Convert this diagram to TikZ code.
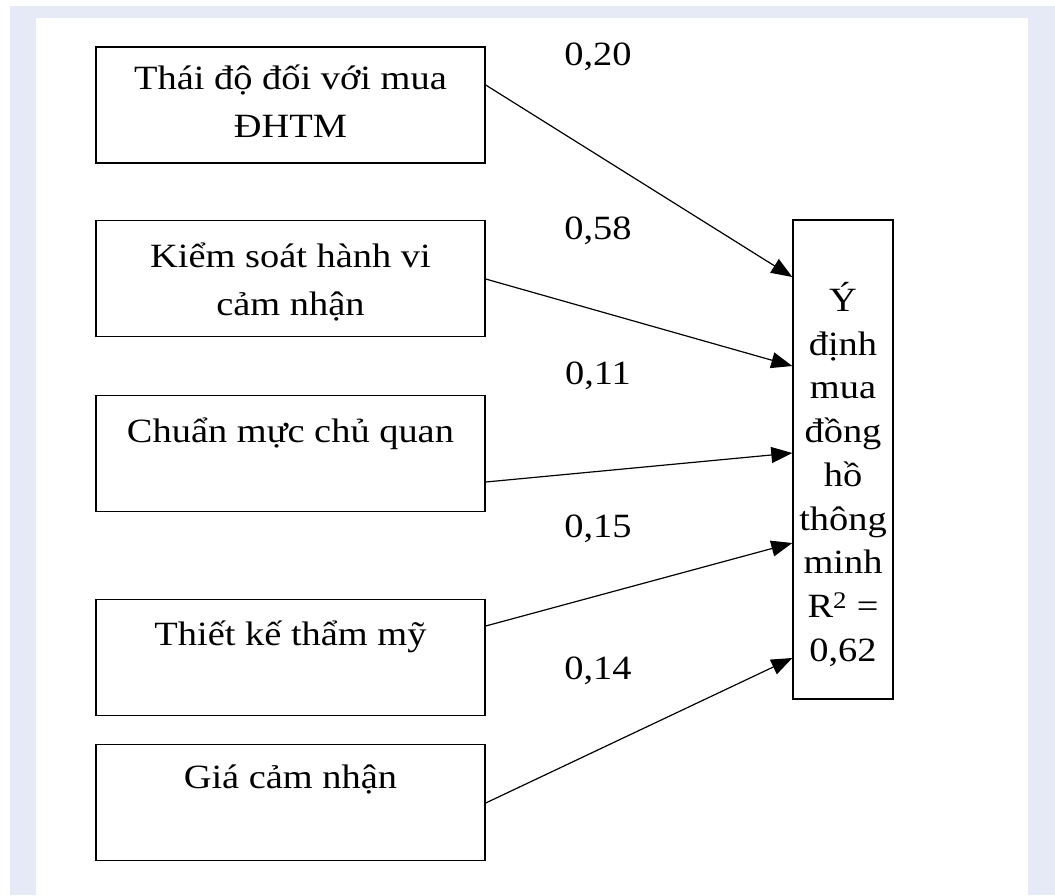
\documentclass[tikz,border=0pt]{standalone}
\usepackage{fontspec}
\setmainfont{Liberation Serif}[FakeStretch=1.13]
\usetikzlibrary{arrows.meta, positioning, calc}
\definecolor{colFrame}{RGB}{230,234,246}
\tikzset{
  fbox/.style  = {draw, line width=1.4pt, minimum width=389pt, minimum height=116pt,
                  inner sep=0pt},
  ftext/.style = {font=\fontsize{34}{48}\selectfont, align=center, inner sep=0pt,
                  anchor=base},
  ybox/.style  = {draw, line width=1.4pt, minimum width=100pt, minimum height=479pt,
                  inner sep=0pt},
  ytext/.style = {font=\fontsize{34}{43.75}\selectfont, align=center, inner sep=0pt,
                  anchor=base},
  coef/.style  = {font=\fontsize{34}{40}\selectfont, inner sep=0pt, anchor=base},
  arr/.style   = {-{Triangle[length=21pt, width=16pt]}, line width=1.2pt},
}

\begin{document}
\begin{tikzpicture}[x=1pt, y=-1pt]

%% ── page frame ──────────────────────────────────────────────────────────────
\useasboundingbox (0,0) rectangle (1055,895);
\fill[white]    (0,0)   rectangle (1055,895);
\fill[colFrame] (10,6)  rectangle (1055,895);
\fill[white]    (36,18) rectangle (1028,895);

%% ── factor boxes ────────────────────────────────────────────────────────────
\node[fbox] (thaido)   at (290.5,105)   {};
\node[fbox] (kiemsoat) at (290.5,278.5) {};
\node[fbox] (chuanmuc) at (290.5,453.5) {};
\node[fbox] (thietke)  at (290.5,657.5) {};
\node[fbox] (gia)      at (290.5,802.5) {};

% base of a multi-line node = its last line
\node[ftext] (thaidoT)   at ([yshift=-91pt]thaido.north)   {Thái độ đối với mua\\ĐHTM};
\node[ftext] (kiemsoatT) at ([yshift=-96pt]kiemsoat.north) {Kiểm soát hành vi\\cảm nhận};
\node[ftext] (chuanmucT) at ([yshift=-48pt]chuanmuc.north) {Chuẩn mực chủ quan};
\node[ftext] (thietkeT)  at ([yshift=-47pt]thietke.north)  {Thiết kế thẩm mỹ};
\node[ftext] (giaT)      at ([yshift=-45pt]gia.north)      {Giá cảm nhận};

%% ── intention box ───────────────────────────────────────────────────────────
\node[ybox] (ydinh) at (843,459.5) {};
\node[ytext] (ydinhT) at ([yshift=-442pt]ydinh.north)
  {Ý\\định\\mua\\đồng\\hồ\\thông\\minh\\R\textsuperscript{2} =\\0,62};

%% ── path coefficients ───────────────────────────────────────────────────────
\node[coef] (c1) at (598,65)  {0,20};
\node[coef] (c2) at (598,239) {0,58};
\node[coef] (c3) at (598,384) {0,11};
\node[coef] (c4) at (598,537) {0,15};
\node[coef] (c5) at (598,679) {0,14};

%% ── arrows ──────────────────────────────────────────────────────────────────
\draw[arr] ([yshift=20pt]thaido.east)      -- ([yshift=182.5pt]ydinh.west);
\draw[arr] ([yshift=-0.5pt]kiemsoat.east)  -- ([yshift=93.5pt]ydinh.west);
\draw[arr] ([yshift=-28.5pt]chuanmuc.east) -- ([yshift=6.5pt]ydinh.west);
\draw[arr] ([yshift=31.5pt]thietke.east)   -- ([yshift=-83.5pt]ydinh.west);
\draw[arr] ([yshift=-0.5pt]gia.east)       -- ([yshift=-198.5pt]ydinh.west);

\end{tikzpicture}
\end{document}
